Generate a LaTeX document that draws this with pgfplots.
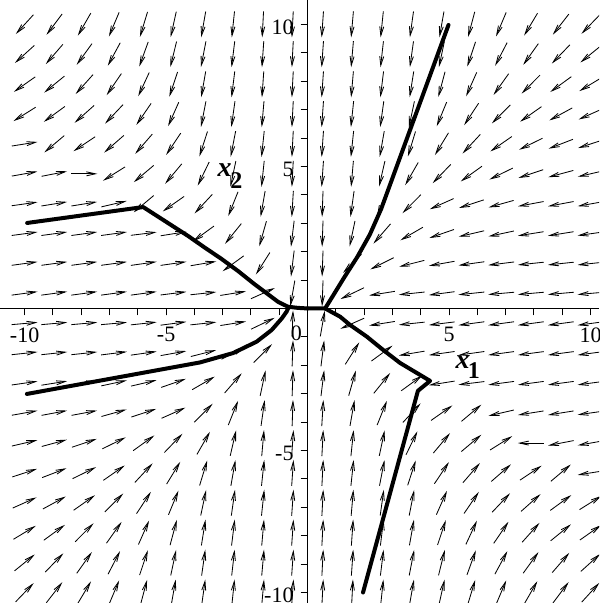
\documentclass[border=0pt]{standalone}
\usepackage{fontspec}
\setmainfont{Liberation Serif}
\usepackage{pgfplots}
\usepackage{pgfplotstable}
\pgfplotsset{compat=1.18}
\usetikzlibrary{arrows.meta}

% Direction field: grid point (x,y) and arrow angle a in degrees
\pgfplotstableread[row sep=\\]{
x y a\\
-10 10 227.5\\ -8.95 10 233\\ -7.89 10 240\\ -6.84 10 247\\ -5.79 10 253\\ -4.74 10 257.5\\ -3.68 10 260\\ -2.63 10 264\\ -1.58 10 267\\ -0.53 10 267\\ 0.53 10 266\\ 1.58 10 265\\ 2.63 10 264\\ 3.68 10 262\\ 4.74 10 260\\ 5.79 10 255\\ 6.84 10 247\\ 7.89 10 239\\ 8.95 10 232\\ 10 10 226\\
-10 8.95 222\\ -8.95 8.95 229\\ -7.89 8.95 234\\ -6.84 8.95 241.5\\ -5.79 8.95 250\\ -4.74 8.95 256\\ -3.68 8.95 259\\ -2.63 8.95 263\\ -1.58 8.95 266\\ -0.53 8.95 267\\ 0.53 8.95 266\\ 1.58 8.95 265\\ 2.63 8.95 263.5\\ 3.68 8.95 262\\ 4.74 8.95 258\\ 5.79 8.95 251.5\\ 6.84 8.95 242.5\\ 7.89 8.95 234.5\\ 8.95 8.95 226\\ 10 8.95 219\\
-10 7.89 215\\ -8.95 7.89 219\\ -7.89 7.89 228\\ -6.84 7.89 235.5\\ -5.79 7.89 245\\ -4.74 7.89 251.5\\ -3.68 7.89 260\\ -2.63 7.89 263\\ -1.58 7.89 266\\ -0.53 7.89 267\\ 0.53 7.89 266\\ 1.58 7.89 265\\ 2.63 7.89 263\\ 3.68 7.89 261\\ 4.74 7.89 255\\ 5.79 7.89 246\\ 6.84 7.89 234.5\\ 7.89 7.89 225\\ 8.95 7.89 216\\ 10 7.89 211\\
-10 6.84 212\\ -8.95 6.84 216\\ -7.89 6.84 221.5\\ -6.84 6.84 226.5\\ -5.79 6.84 235.5\\ -4.74 6.84 246\\ -3.68 6.84 259\\ -2.63 6.84 262\\ -1.58 6.84 265\\ -0.53 6.84 267\\ 0.53 6.84 266\\ 1.58 6.84 264\\ 2.63 6.84 262\\ 3.68 6.84 258\\ 4.74 6.84 247.5\\ 5.79 6.84 236.5\\ 6.84 6.84 225\\ 7.89 6.84 215\\ 8.95 6.84 208.5\\ 10 6.84 204\\
-10 5.79 9\\ -8.95 5.79 220\\ -7.89 5.79 213.5\\ -6.84 5.79 221\\ -5.79 5.79 229\\ -4.74 5.79 236\\ -3.68 5.79 252\\ -2.63 5.79 259\\ -1.58 5.79 264\\ -0.53 5.79 267\\ 0.53 5.79 266\\ 1.58 5.79 264\\ 2.63 5.79 260\\ 3.68 5.79 253\\ 4.74 5.79 238.5\\ 5.79 5.79 227\\ 6.84 5.79 214.7\\ 7.89 5.79 206\\ 8.95 5.79 201\\ 10 5.79 198\\
-10 4.74 10\\ -8.95 4.74 11\\ -7.89 4.74 0\\ -6.84 4.74 212\\ -5.79 4.74 220\\ -4.74 4.74 230\\ -3.68 4.74 244\\ -2.63 4.74 258\\ -1.58 4.74 264\\ -0.53 4.74 267\\ 0.53 4.74 266\\ 1.58 4.74 265\\ 2.63 4.74 257\\ 3.68 4.74 240\\ 4.74 4.74 226\\ 5.79 4.74 215.5\\ 6.84 4.74 206\\ 7.89 4.74 198.5\\ 8.95 4.74 195\\ 10 4.74 193\\
-10 3.68 8\\ -8.95 3.68 9\\ -7.89 3.68 9\\ -6.84 3.68 13\\ -5.79 3.68 220\\ -4.74 3.68 215\\ -3.68 3.68 227\\ -2.63 3.68 248\\ -1.58 3.68 260\\ -0.53 3.68 266.5\\ 0.53 3.68 268\\ 1.58 3.68 262\\ 2.63 3.68 248\\ 3.68 3.68 225\\ 4.74 3.68 204\\ 5.79 3.68 198\\ 6.84 3.68 195.5\\ 7.89 3.68 190.5\\ 8.95 3.68 190.5\\ 10 3.68 190\\
-10 2.63 7.6\\ -8.95 2.63 7.6\\ -7.89 2.63 7.6\\ -6.84 2.63 7.6\\ -5.79 2.63 7\\ -4.74 2.63 9\\ -3.68 2.63 216\\ -2.63 2.63 231\\ -1.58 2.63 254\\ -0.53 2.63 263\\ 0.53 2.63 268\\ 1.58 2.63 258\\ 2.63 2.63 229\\ 3.68 2.63 210\\ 4.74 2.63 199\\ 5.79 2.63 193\\ 6.84 2.63 192\\ 7.89 2.63 189\\ 8.95 2.63 189\\ 10 2.63 188\\
-10 1.58 7.6\\ -8.95 1.58 7.6\\ -7.89 1.58 7.6\\ -6.84 1.58 7.6\\ -5.79 1.58 8\\ -4.74 1.58 8\\ -3.68 1.58 9.5\\ -2.63 1.58 216\\ -1.58 1.58 237.5\\ -0.53 1.58 263\\ 0.53 1.58 268\\ 1.58 1.58 225\\ 2.63 1.58 206.5\\ 3.68 1.58 194\\ 4.74 1.58 190\\ 5.79 1.58 188\\ 6.84 1.58 187\\ 7.89 1.58 186\\ 8.95 1.58 186\\ 10 1.58 186\\
-10 0.53 7.6\\ -8.95 0.53 7.6\\ -7.89 0.53 7.6\\ -6.84 0.53 7.6\\ -5.79 0.53 7.6\\ -4.74 0.53 7\\ -3.68 0.53 6\\ -2.63 0.53 9\\ -1.58 0.53 24\\ -0.53 0.53 260\\ 0.53 0.53 268\\ 1.58 0.53 205.6\\ 2.63 0.53 189\\ 3.68 0.53 186\\ 4.74 0.53 187.5\\ 5.79 0.53 186\\ 6.84 0.53 185\\ 7.89 0.53 185\\ 8.95 0.53 185\\ 10 0.53 185\\
-10 -0.53 5\\ -8.95 -0.53 5\\ -7.89 -0.53 5\\ -6.84 -0.53 5\\ -5.79 -0.53 6\\ -4.74 -0.53 7.5\\ -3.68 -0.53 6\\ -2.63 -0.53 9\\ -1.58 -0.53 25.6\\ -0.53 -0.53 88\\ 0.53 -0.53 80\\ 1.58 -0.53 204\\ 2.63 -0.53 189\\ 3.68 -0.53 186\\ 4.74 -0.53 187\\ 5.79 -0.53 187.6\\ 6.84 -0.53 187.6\\ 7.89 -0.53 187.6\\ 8.95 -0.53 187.6\\ 10 -0.53 187.6\\
-10 -1.58 6\\ -8.95 -1.58 6\\ -7.89 -1.58 6\\ -6.84 -1.58 7\\ -5.79 -1.58 8\\ -4.74 -1.58 10\\ -3.68 -1.58 14\\ -2.63 -1.58 26.5\\ -1.58 -1.58 45\\ -0.53 -1.58 88\\ 0.53 -1.58 83\\ 1.58 -1.58 57.5\\ 2.63 -1.58 36\\ 3.68 -1.58 189.5\\ 4.74 -1.58 188\\ 5.79 -1.58 188\\ 6.84 -1.58 187.6\\ 7.89 -1.58 187.6\\ 8.95 -1.58 187.6\\ 10 -1.58 187.6\\
-10 -2.63 8\\ -8.95 -2.63 9\\ -7.89 -2.63 9\\ -6.84 -2.63 12\\ -5.79 -2.63 13\\ -4.74 -2.63 19\\ -3.68 -2.63 30\\ -2.63 -2.63 49\\ -1.58 -2.63 78\\ -0.53 -2.63 88\\ 0.53 -2.63 83\\ 1.58 -2.63 74\\ 2.63 -2.63 51\\ 3.68 -2.63 36\\ 4.74 -2.63 189\\ 5.79 -2.63 187\\ 6.84 -2.63 187.6\\ 7.89 -2.63 187.6\\ 8.95 -2.63 187.6\\ 10 -2.63 187.6\\
-10 -3.68 10\\ -8.95 -3.68 10.5\\ -7.89 -3.68 10.5\\ -6.84 -3.68 15.5\\ -5.79 -3.68 18\\ -4.74 -3.68 24\\ -3.68 -3.68 45\\ -2.63 -3.68 68\\ -1.58 -3.68 82\\ -0.53 -3.68 88\\ 0.53 -3.68 86.5\\ 1.58 -3.68 80\\ 2.63 -3.68 68\\ 3.68 -3.68 47\\ 4.74 -3.68 35\\ 5.79 -3.68 40\\ 6.84 -3.68 193\\ 7.89 -3.68 189\\ 8.95 -3.68 189\\ 10 -3.68 188\\
-10 -4.74 13\\ -8.95 -4.74 15\\ -7.89 -4.74 18.5\\ -6.84 -4.74 26\\ -5.79 -4.74 35.5\\ -4.74 -4.74 46\\ -3.68 -4.74 60\\ -2.63 -4.74 77\\ -1.58 -4.74 85\\ -0.53 -4.74 86\\ 0.53 -4.74 87\\ 1.58 -4.74 84\\ 2.63 -4.74 78\\ 3.68 -4.74 64\\ 4.74 -4.74 50\\ 5.79 -4.74 40\\ 6.84 -4.74 32\\ 7.89 -4.74 180\\ 8.95 -4.74 191\\ 10 -4.74 190\\
-10 -5.79 18\\ -8.95 -5.79 21\\ -7.89 -5.79 26\\ -6.84 -5.79 34.7\\ -5.79 -5.79 47\\ -4.74 -5.79 58.5\\ -3.68 -5.79 73\\ -2.63 -5.79 80\\ -1.58 -5.79 84\\ -0.53 -5.79 86\\ 0.53 -5.79 87\\ 1.58 -5.79 84\\ 2.63 -5.79 79\\ 3.68 -5.79 72\\ 4.74 -5.79 56\\ 5.79 -5.79 49\\ 6.84 -5.79 41\\ 7.89 -5.79 33.5\\ 8.95 -5.79 40\\ 10 -5.79 189\\
-10 -6.84 24\\ -8.95 -6.84 28.5\\ -7.89 -6.84 35\\ -6.84 -6.84 45\\ -5.79 -6.84 56.5\\ -4.74 -6.84 67.5\\ -3.68 -6.84 78\\ -2.63 -6.84 82\\ -1.58 -6.84 84\\ -0.53 -6.84 86\\ 0.53 -6.84 87\\ 1.58 -6.84 85\\ 2.63 -6.84 82\\ 3.68 -6.84 79\\ 4.74 -6.84 66\\ 5.79 -6.84 55.5\\ 6.84 -6.84 46.5\\ 7.89 -6.84 41.5\\ 8.95 -6.84 36\\ 10 -6.84 32\\
-10 -7.89 31\\ -8.95 -7.89 36\\ -7.89 -7.89 45\\ -6.84 -7.89 54.5\\ -5.79 -7.89 66\\ -4.74 -7.89 75\\ -3.68 -7.89 81\\ -2.63 -7.89 83\\ -1.58 -7.89 85\\ -0.53 -7.89 86\\ 0.53 -7.89 87\\ 1.58 -7.89 86\\ 2.63 -7.89 83\\ 3.68 -7.89 80\\ 4.74 -7.89 71.5\\ 5.79 -7.89 65\\ 6.84 -7.89 55.5\\ 7.89 -7.89 48\\ 8.95 -7.89 39\\ 10 -7.89 35\\
-10 -8.95 39\\ -8.95 -8.95 46\\ -7.89 -8.95 54.5\\ -6.84 -8.95 62.5\\ -5.79 -8.95 71.5\\ -4.74 -8.95 78\\ -3.68 -8.95 82\\ -2.63 -8.95 83.5\\ -1.58 -8.95 85\\ -0.53 -8.95 86\\ 0.53 -8.95 87\\ 1.58 -8.95 86\\ 2.63 -8.95 83\\ 3.68 -8.95 79\\ 4.74 -8.95 76\\ 5.79 -8.95 70\\ 6.84 -8.95 61.5\\ 7.89 -8.95 54\\ 8.95 -8.95 49\\ 10 -8.95 42\\
-10 -10 46\\ -8.95 -10 52\\ -7.89 -10 59\\ -6.84 -10 67\\ -5.79 -10 75\\ -4.74 -10 80\\ -3.68 -10 82\\ -2.63 -10 84\\ -1.58 -10 85\\ -0.53 -10 86\\ 0.53 -10 87\\ 1.58 -10 87\\ 2.63 -10 84\\ 3.68 -10 80\\ 4.74 -10 77.5\\ 5.79 -10 73\\ 6.84 -10 67\\ 7.89 -10 60\\ 8.95 -10 53\\ 10 -10 47.5\\
}\field

\begin{document}
\begin{tikzpicture}
\useasboundingbox (0,0) rectangle (299.5pt,301.5pt);
\begin{axis}[
  at={(0,0)}, anchor=south west,
  scale only axis, width=299.5pt, height=301.5pt,
  xmin=-10.87, xmax=10.30, ymin=-10.37, ymax=10.86,
  axis lines=middle,
  axis line style={-, line width=0.6pt, black},
  xtick={-10,-5,5,10}, ytick={-10,-5,5,10},
  minor xtick={-9,...,9}, minor ytick={-9,...,9},
  tick align=outside,
  major tick length=3.5pt, minor tick length=3.5pt,
  every tick/.style={black, line width=0.5pt},
  ticklabel style={font=\fontsize{11}{13}\selectfont},
  xticklabel style={yshift=-2.5pt},
  yticklabel style={yshift=-1.5pt},
  /pgf/number format/assume math mode=true,
  clip=true,
]
% direction field arrows, centred on the grid points
\addplot[black, line width=0.42pt, -{Straight Barb[length=4.5pt, width=2pt]},
  quiver={u={0.92*cos(\thisrow{a})}, v={0.92*sin(\thisrow{a})}}]
  table[x expr={\thisrow{x}-0.46*cos(\thisrow{a})},
        y expr={\thisrow{y}-0.46*sin(\thisrow{a})}] {\field};

% solution curves
\addplot[black, line width=2pt, line join=round, line cap=round] coordinates {
  (-9.91,3.01) (-5.81,3.57) (-4.22,2.55) (-3.63,2.14) (-3.05,1.75) (-2.46,1.32)
  (-1.87,0.85) (-1.40,0.50) (-1.04,0.23) (-0.69,0.06) (-0.34,0.02) (0,0)
};
\addplot[black, line width=2pt, line join=round, line cap=round] coordinates {
  (-9.92,-3.01) (-3.80,-1.90) (-2.63,-1.57) (-1.80,-1.17) (-1.27,-0.76)
  (-0.91,-0.35) (-0.74,-0.11) (-0.69,0)
};
\addplot[black, line width=2pt, line join=round, line cap=round] coordinates {
  (0,0) (0.62,0) (0.9,0.45) (1.3,1.1) (1.75,1.8) (2.2,2.6) (2.6,3.5) (4.98,9.98)
};
\addplot[black, line width=2pt, line join=round, line cap=round] coordinates {
  (0.62,0) (1.15,-0.29) (1.50,-0.58) (2.09,-0.99) (2.67,-1.46) (3.27,-1.92)
  (4.33,-2.55) (3.90,-2.90) (1.96,-10.0)
};

\node[inner sep=0pt, font=\fontsize{11}{13}\selectfont] at (axis cs:-0.4,-0.86) {0};
\node[inner sep=0pt, font=\fontsize{14}{14}\selectfont\bfseries\itshape] at (axis cs:-2.93,4.88) {x};
\node[inner sep=0pt, font=\fontsize{12}{14}\selectfont\bfseries] at (axis cs:-2.52,4.50) {2};
\node[inner sep=0pt, font=\fontsize{14}{14}\selectfont\bfseries\itshape] at (axis cs:5.48,-1.88) {x};
\node[inner sep=0pt, font=\fontsize{12}{14}\selectfont\bfseries] at (axis cs:5.88,-2.17) {1};
\end{axis}
\end{tikzpicture}
\end{document}
